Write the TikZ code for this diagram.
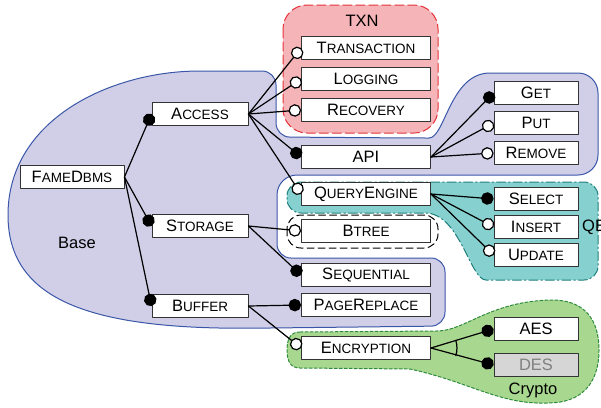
\documentclass[tikz,border=0pt]{standalone}
\usepackage{fontspec}
\setmainfont{Liberation Sans}
\usetikzlibrary{arrows.meta}
\definecolor{baseline}{HTML}{3A56A8}
\definecolor{basefill}{HTML}{D1CFE7}
\definecolor{txnline}{HTML}{E5323A}
\definecolor{txnfill}{HTML}{F5B4B7}
\definecolor{qeline}{HTML}{1F7F7C}
\definecolor{qefill}{HTML}{86D1D0}
\definecolor{cryline}{HTML}{2E8B3C}
\definecolor{cryfill}{HTML}{A8D78F}
\newcommand\fsc[2]{#1{\fontsize{13.5}{15}\selectfont#2}}
\begin{document}
\begin{tikzpicture}[x=1pt, y=-1pt, font=\fontsize{16.5}{19}\selectfont, line join=round, line cap=round]
	\tikzset{feat/.style={draw=black!80, fill=white, line width=.9pt, minimum height=23, inner sep=0},
		lft/.style={feat, minimum width=96},
		mid/.style={feat, minimum width=129},
		rgt/.style={feat, minimum width=84},
		mand/.style={line width=1.2pt, -{Circle[length=12.5pt, width=12.5pt]}},
		opt/.style={line width=1.2pt, -{Circle[length=12.5pt, width=12.5pt, fill=white]}},
		grp/.style={line width=1pt}}
	\useasboundingbox (0,0) rectangle (601,407);
	\draw[grp, draw=baseline, fill=basefill, rounded corners=14] (200,71) -- (276,71) -- (276,137) -- (415,138)
		[sharp corners] .. controls (445,138) and (450,73) .. (490,73) [rounded corners=20] -- (598,73) -- (598,175) -- (277,175)
		[rounded corners=14] -- (277,258) -- (445,258) -- (445,326) -- (270,328)
		[sharp corners] .. controls (90,330) and (8,300) .. (8,215) .. controls (8,120) and (110,71) .. (200,71) -- cycle;
	\draw[grp, draw=txnline, fill=txnfill, dash pattern=on 9pt off 4pt, rounded corners=24] (283,5) rectangle (438,133);
	\draw[grp, draw=qeline, fill=qefill, dash pattern=on 9pt off 3pt on 1.5pt off 3pt, rounded corners=14] (400,182) -- (598,182) -- (598,280)
		-- (500,280) [sharp corners] .. controls (470,280) and (460,213) .. (425,213) [rounded corners=14] -- (287,213) -- (287,182) -- cycle;
	\draw[grp, dash pattern=on 7pt off 4pt, rounded corners=14] (287,215) rectangle (438,248);
	\draw[grp, draw=cryline, fill=cryfill, dash pattern=on 3pt off 2pt] (300,332) -- (437,331) .. controls (465,331) and (490,301) .. (552,300)
		.. controls (585,300) and (599,320) .. (599,350) .. controls (599,385) and (580,403) .. (548,403)
		.. controls (500,405) and (470,382) .. (410,369) -- (300,368) .. controls (291,368) and (287,362) .. (287,350)
		.. controls (287,338) and (291,332) .. (300,332) -- cycle;
	\node[feat, minimum width=104] (fame) at (72,177) {\fsc{F}{AME}\fsc{D}{BMS}};
	\node[lft] (access) at (200,114) {\fsc{A}{CCESS}};
	\node[lft] (storage) at (200,226) {\fsc{S}{TORAGE}};
	\node[lft] (buffer) at (200,306) {\fsc{B}{UFFER}};
	\node[mid] (txn) at (366,48) {\fsc{T}{RANSACTION}};
	\node[mid] (logging) at (366,79) {\fsc{L}{OGGING}};
	\node[mid] (recovery) at (366,110) {\fsc{R}{ECOVERY}};
	\node[mid] (api) at (366,157) {API};
	\node[mid] (query) at (366,194) {\fsc{Q}{UERY}\fsc{E}{NGINE}};
	\node[mid] (btree) at (366,231) {\fsc{B}{TREE}};
	\node[mid] (sequential) at (366,275) {\fsc{S}{EQUENTIAL}};
	\node[mid] (pagerep) at (366,305) {\fsc{P}{AGE}\fsc{R}{EPLACE}};
	\node[mid] (encrypt) at (366,348) {\fsc{E}{NCRYPTION}};
	\node[rgt] (get) at (536,93) {\fsc{G}{ET}};
	\node[rgt] (put) at (536,123) {\fsc{P}{UT}};
	\node[rgt] (remove) at (536,153) {\fsc{R}{EMOVE}};
	\node[rgt] (select) at (536,199) {\fsc{S}{ELECT}};
	\node[rgt] (insert) at (536,227) {\fsc{I}{NSERT}};
	\node[rgt] (update) at (536,255) {\fsc{U}{PDATE}};
	\node[rgt] (aes) at (536,329) {AES};
	\node[rgt, fill=black!16, text=black!50] (des) at (536,365) {DES};
	\node (txnlabel) at (362,21) {TXN};
	\node (baselabel) at (77,243) {Base};
	\node (qelabel) at (582,227) [anchor=west, inner sep=0] {QE};
	\node (cryptolabel) at (533,390) {Crypto};
	\draw[mand] (fame.east) -- (access.west);
	\draw[mand] (fame.east) -- (storage.west);
	\draw[mand] (fame.east) -- (buffer.west);
	\draw[opt] (access.east) -- (txn.west);
	\draw[opt] (access.east) -- (logging.west);
	\draw[opt] (access.east) -- (recovery.west);
	\draw[mand] (access.east) -- (api.west);
	\draw[opt] (access.east) -- (query.west);
	\draw[opt] (storage.east) -- (btree.west);
	\draw[mand] (storage.east) -- (sequential.west);
	\draw[mand] (buffer.east) -- (pagerep.west);
	\draw[opt] (buffer.east) -- (encrypt.west);
	\draw[mand] (api.east) -- (get.west);
	\draw[opt] (api.east) -- (put.west);
	\draw[opt] (api.east) -- (remove.west);
	\draw[mand] (query.east) -- (select.west);
	\draw[opt] (query.east) -- (insert.west);
	\draw[opt] (query.east) -- (update.west);
	\draw[mand] (encrypt.east) -- (aes.west);
	\draw[mand] (encrypt.east) -- (des.west);
	\draw[line width=1.2pt] ([shift={(-17:26pt)}]encrypt.east) arc[start angle=-17, end angle=17, radius=26pt];
\end{tikzpicture}
\end{document}
